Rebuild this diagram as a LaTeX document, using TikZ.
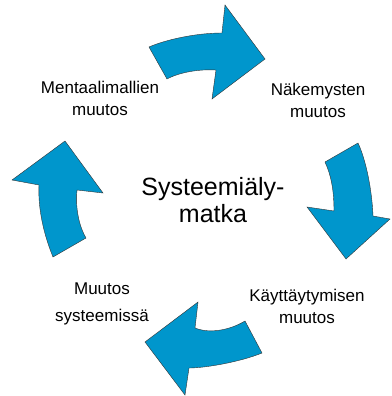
\documentclass[tikz,border=0pt]{standalone}
\usepackage{fontspec}
\setmainfont{Liberation Sans}
\usepackage{tikz}

\definecolor{cycleblue}{RGB}{0,150,204}
\tikzset{
  blockarrow/.style={fill=cycleblue, draw=black!80, line width=0.4pt, line join=miter},
  phase/.style={align=center, inner sep=0pt, font=\fontsize{17}{22}\selectfont},
  hub/.style={align=center, inner sep=0pt, font=\fontsize{25}{27}\selectfont}
}

\begin{document}
\begin{tikzpicture}[x=1pt,y=-1pt]
\useasboundingbox (0,0) rectangle (391,396);
% the four bent arrows of the cycle
\draw[blockarrow] (149,47) .. controls (165,40) and (195,33) .. (222,33) -- (225,5) -- (265,59) -- (212,99) -- (216,70) .. controls (200,69) and (180,72) .. (167,79) -- cycle;
\draw[blockarrow] (358,143) .. controls (366,160) and (372,190) .. (373,216) -- (390,219) -- (346,259) -- (307,207) -- (334,211) .. controls (334,190) and (331,175) .. (325,162) -- cycle;
\draw[blockarrow] (262,353) .. controls (240,362) and (205,368) .. (189,368) -- (185,395) -- (145,342) -- (198,302) -- (195,328) .. controls (210,334) and (230,330) .. (245,321) -- cycle;
\draw[blockarrow] (53,257) .. controls (42,230) and (38,205) .. (39,185) -- (12,180) -- (65,141) -- (103,193) -- (77,190) .. controls (75,210) and (80,228) .. (86,238) -- cycle;
% texts
\node[hub] (centre) at (213,200) {Systeemiäly-\\matka};
\node[phase] (mental) at (100,98) {Mentaalimallien\\muutos};
\node[phase] (view) at (318,100) {Näkemysten\\muutos};
\node[phase] (behaviour) at (307,306) {Käyttäytymisen\\muutos};
\node[phase] (system) at (102,304) {Muutos\\[5pt]systeemissä};
\end{tikzpicture}
\end{document}
